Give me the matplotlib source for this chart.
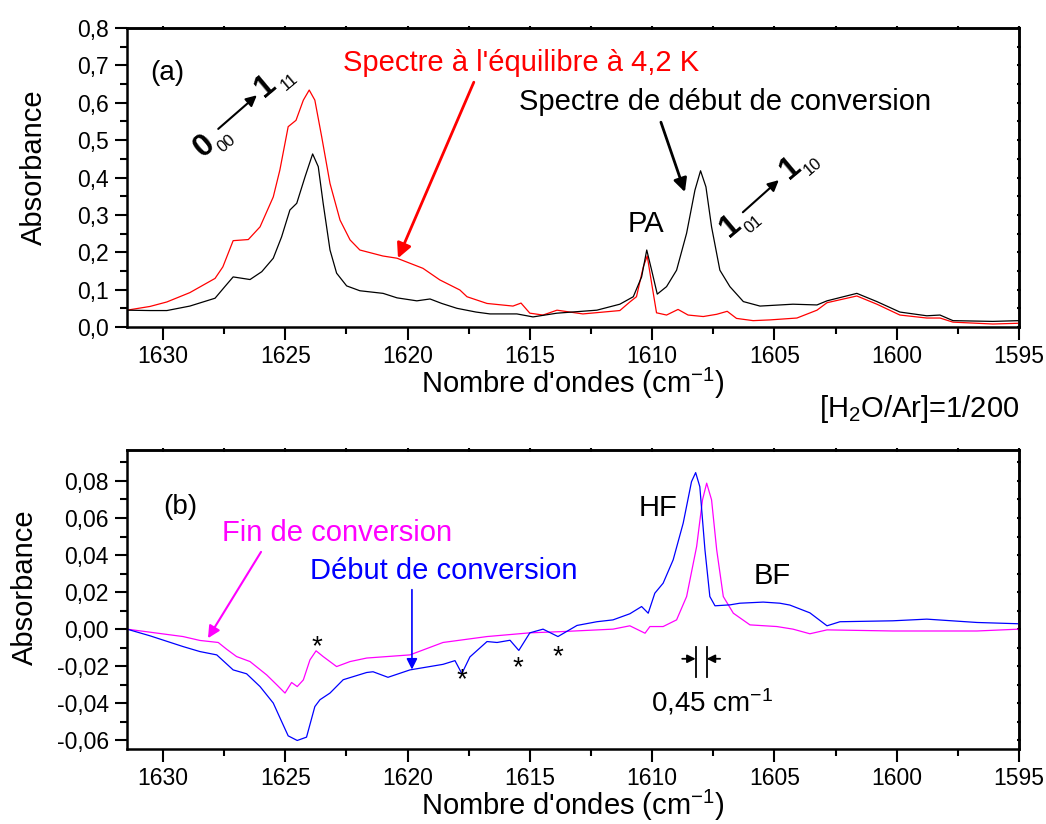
import matplotlib
matplotlib.use("Agg")
import matplotlib.pyplot as plt
import numpy as np
from matplotlib.ticker import MultipleLocator, FuncFormatter, NullFormatter

plt.rcParams["font.family"] = ["Liberation Sans", "DejaVu Sans"]
plt.rcParams["mathtext.fontset"] = "custom"
plt.rcParams["mathtext.rm"] = "Liberation Sans"
plt.rcParams["mathtext.it"] = "Liberation Sans:italic"
plt.rcParams["mathtext.default"] = "regular"

# (a) spectre de debut de conversion (noir)
wn_black = [1631.47, 1630.53, 1629.84, 1628.90, 1627.87, 1627.47, 1627.13, 1626.44,
            1625.96, 1625.49, 1625.15, 1624.81, 1624.53, 1624.19, 1623.88, 1623.65,
            1623.45, 1623.17, 1622.90, 1622.49, 1621.95, 1621.00, 1620.43, 1619.62,
            1619.08, 1618.60, 1617.98, 1617.20, 1616.63, 1615.53, 1614.87, 1613.89,
            1612.26, 1611.32, 1610.77, 1610.43, 1610.22, 1610.02, 1609.79, 1609.41,
            1609.00, 1608.59, 1608.25, 1608.02, 1607.80, 1607.57, 1607.23, 1606.82,
            1606.27, 1605.59, 1604.24, 1603.26, 1602.85, 1601.63, 1600.81, 1599.87,
            1598.77, 1598.23, 1597.70, 1596.07, 1595.00]
abs_black = [0.045, 0.044, 0.044, 0.056, 0.077, 0.108, 0.134, 0.127,
             0.148, 0.184, 0.241, 0.313, 0.331, 0.402, 0.463, 0.429,
             0.331, 0.206, 0.144, 0.110, 0.097, 0.090, 0.078, 0.070,
             0.075, 0.063, 0.050, 0.040, 0.035, 0.035, 0.027, 0.037,
             0.045, 0.061, 0.081, 0.134, 0.206, 0.152, 0.088, 0.108,
             0.152, 0.251, 0.366, 0.418, 0.375, 0.268, 0.152, 0.108,
             0.068, 0.056, 0.061, 0.059, 0.070, 0.090, 0.068, 0.040,
             0.030, 0.032, 0.017, 0.015, 0.017]

# (a) spectre a l'equilibre a 4,2 K (rouge)
wn_red = [1631.47, 1630.53, 1629.84, 1628.90, 1627.87, 1627.55, 1627.13, 1626.51,
          1626.03, 1625.49, 1625.22, 1624.88, 1624.56, 1624.26, 1624.02, 1623.79,
          1623.51, 1623.17, 1622.76, 1622.35, 1621.95, 1621.01, 1620.43, 1619.37,
          1618.68, 1617.86, 1617.57, 1616.75, 1615.69, 1615.36, 1615.00, 1614.46,
          1613.89, 1612.83, 1611.32, 1610.91, 1610.64, 1610.36, 1610.20, 1610.02,
          1609.82, 1609.41, 1608.94, 1608.53, 1607.91, 1607.36, 1606.93, 1606.55,
          1605.87, 1605.18, 1604.08, 1603.26, 1602.85, 1601.63, 1600.81, 1599.87,
          1598.77, 1598.23, 1597.70, 1596.07, 1595.00]
abs_red = [0.045, 0.055, 0.067, 0.092, 0.130, 0.161, 0.231, 0.234,
           0.268, 0.348, 0.420, 0.536, 0.553, 0.607, 0.634, 0.607,
           0.509, 0.384, 0.286, 0.233, 0.206, 0.190, 0.184, 0.157,
           0.126, 0.099, 0.081, 0.063, 0.056, 0.064, 0.037, 0.032,
           0.045, 0.035, 0.044, 0.067, 0.081, 0.161, 0.190, 0.117,
           0.038, 0.032, 0.047, 0.032, 0.028, 0.034, 0.042, 0.023,
           0.017, 0.019, 0.024, 0.045, 0.065, 0.083, 0.061, 0.032,
           0.024, 0.024, 0.013, 0.008, 0.010]

# (b) debut de conversion (bleu)
wn_blue = [1631.47, 1630.53, 1629.18, 1628.49, 1627.80, 1627.13, 1626.58, 1626.03,
           1625.49, 1625.15, 1624.88, 1624.51, 1624.13, 1623.79, 1623.58, 1623.17,
           1622.63, 1621.67, 1621.41, 1620.80, 1619.90, 1618.55, 1618.06, 1617.78,
           1617.45, 1616.75, 1616.34, 1615.81, 1615.45, 1615.00, 1614.46, 1613.85,
           1613.07, 1612.26, 1611.60, 1610.91, 1610.43, 1610.16, 1609.89, 1609.55,
           1609.14, 1608.73, 1608.39, 1608.22, 1608.05, 1607.84, 1607.64, 1607.43,
           1606.82, 1606.41, 1605.46, 1604.78, 1604.37, 1603.55, 1602.85, 1602.32,
           1600.16, 1598.77, 1596.72, 1595.00]
diff_blue = [0.0000, -0.0036, -0.0094, -0.0121, -0.0139, -0.0220, -0.0241, -0.0310,
             -0.0399, -0.0498, -0.0576, -0.0601, -0.0583, -0.0418, -0.0381, -0.0345,
             -0.0273, -0.0234, -0.0230, -0.0260, -0.0220, -0.0190, -0.0170, -0.0240,
             -0.0150, -0.0067, -0.0072, -0.0060, -0.0115, -0.0020, 0.0000, -0.0040,
             0.0020, 0.0040, 0.0050, 0.0083, 0.0122, 0.0086, 0.0194, 0.0248,
             0.0374, 0.0572, 0.0796, 0.0845, 0.0769, 0.0428, 0.0176, 0.0126,
             0.0131, 0.0140, 0.0146, 0.0140, 0.0130, 0.0088, 0.0018, 0.0040,
             0.0045, 0.0054, 0.0036, 0.0029]

# (b) fin de conversion (magenta)
wn_mag = [1631.47, 1629.18, 1628.49, 1628.08, 1627.74, 1627.40, 1626.99, 1626.44,
          1625.76, 1625.35, 1625.01, 1624.74, 1624.51, 1624.26, 1623.99, 1623.74,
          1623.45, 1622.90, 1622.35, 1621.67, 1619.90, 1618.55, 1616.75, 1615.00,
          1613.65, 1611.60, 1610.91, 1610.29, 1610.09, 1609.55, 1609.00, 1608.59,
          1608.18, 1607.94, 1607.77, 1607.57, 1607.36, 1607.09, 1606.68, 1606.00,
          1604.90, 1604.24, 1603.55, 1602.85, 1600.16, 1596.72, 1595.00]
diff_mag = [0.0000, -0.0040, -0.0061, -0.0067, -0.0072, -0.0108, -0.0148, -0.0175,
            -0.0247, -0.0300, -0.0345, -0.0288, -0.0310, -0.0274, -0.0166, -0.0117,
            -0.0148, -0.0202, -0.0175, -0.0156, -0.0139, -0.0072, -0.0040, -0.0020,
            -0.0013, 0.0000, 0.0018, -0.0022, 0.0014, 0.0014, 0.0050, 0.0176,
            0.0446, 0.0698, 0.0788, 0.0698, 0.0428, 0.0176, 0.0086, 0.0023,
            0.0014, 0.0000, -0.0025, -0.0004, -0.0010, -0.0010, 0.0000]


def comma(nd):
    def f(v, pos):
        if abs(v) < 1e-9:
            v = 0.0
        return f"{v:.{nd}f}".replace(".", ",")
    return f


def style(ax, ymaj, ymin, nd):
    ax.set_xlim(1631.47, 1595)
    ax.xaxis.set_major_locator(MultipleLocator(5))
    ax.xaxis.set_minor_locator(MultipleLocator(2.5))
    ax.yaxis.set_major_locator(MultipleLocator(ymaj))
    ax.yaxis.set_minor_locator(MultipleLocator(ymin))
    ax.yaxis.set_major_formatter(FuncFormatter(comma(nd)))
    ax.tick_params(which="major", direction="out", length=9, width=1.5,
                   labelsize=16.5, pad=4)
    ax.tick_params(which="minor", direction="out", length=5, width=1.5)
    for s in ax.spines.values():
        s.set_linewidth(1.8)
    sx = ax.secondary_xaxis("top")
    sx.xaxis.set_major_locator(MultipleLocator(2.5))
    sx.xaxis.set_major_formatter(NullFormatter())
    sx.tick_params(direction="inout", length=3, width=1.5)
    sx.spines["top"].set_linewidth(1.8)
    sy = ax.secondary_yaxis("right")
    sy.yaxis.set_major_locator(MultipleLocator(ymin))
    sy.yaxis.set_major_formatter(NullFormatter())
    sy.tick_params(direction="inout", length=3, width=1.5)
    sy.spines["right"].set_linewidth(1.8)
    ax.set_xlabel("Nombre d'ondes (cm$^{-1}$)", fontsize=21, va="baseline")
    ax.xaxis.set_label_coords(0.5, -0.222)


fig = plt.figure(figsize=(10.46, 8.24), dpi=100)
ax1 = fig.add_axes([127 / 1046, 1 - 327 / 824, 892 / 1046, 299 / 824])
ax2 = fig.add_axes([127 / 1046, 1 - 749 / 824, 892 / 1046, 299 / 824])

# ---- (a)
ax1.plot(wn_red, abs_red, color="#ff0000", lw=0.9)
ax1.plot(wn_black, abs_black, color="black", lw=0.9)
ax1.set_ylim(0, 0.8)
style(ax1, 0.1, 0.05, 1)
ax1.set_ylabel("Absorbance", fontsize=21, va="baseline")
ax1.yaxis.set_label_coords(-0.095, 0.533)

ax1.text(1629.84, 0.679, "(a)", fontsize=20, ha="center", va="center")
ax1.text(1615.36, 0.706, "Spectre à l'équilibre à 4,2 K", color="#ff0000",
         fontsize=21, ha="center", va="center")
ax1.annotate("", xy=(1620.39, 0.184), xytext=(1617.29, 0.655),
             arrowprops=dict(arrowstyle="-|>", color="#ff0000", lw=2,
                             mutation_scale=22, shrinkA=0, shrinkB=0))
ax1.text(1607.0, 0.602, "Spectre de début de conversion", color="black",
         fontsize=21, ha="center", va="center")
ax1.annotate("", xy=(1608.66, 0.361), xytext=(1609.64, 0.548),
             arrowprops=dict(arrowstyle="-|>", color="black", lw=2,
                             mutation_scale=20, shrinkA=0, shrinkB=0))
ax1.text(1610.25, 0.275, "PA", fontsize=21, ha="center", va="center")

# transitions 0_00 -> 1_11 et 1_01 -> 1_10
rot = 40
big = dict(fontsize=23, fontweight="bold", rotation=rot, ha="center",
           va="center", rotation_mode="anchor")
small = dict(fontsize=12, rotation=rot, ha="center", va="center",
             rotation_mode="anchor")
ax1.text(1628.32, 0.484, "0", **big)
ax1.text(1627.40, 0.490, "00", **small)
ax1.annotate("", xy=(1626.16, 0.620), xytext=(1627.74, 0.530),
             arrowprops=dict(arrowstyle="-|>", color="black", lw=1.5,
                             mutation_scale=16, shrinkA=0, shrinkB=0))
ax1.text(1625.80, 0.645, "1", **big)
ax1.text(1624.82, 0.655, "11", **small)

ax1.text(1606.80, 0.270, "1", **big)
ax1.text(1605.84, 0.274, "01", **small)
ax1.annotate("", xy=(1604.82, 0.393), xytext=(1606.29, 0.307),
             arrowprops=dict(arrowstyle="-|>", color="black", lw=1.5,
                             mutation_scale=16, shrinkA=0, shrinkB=0))
ax1.text(1604.33, 0.426, "1", **big)
ax1.text(1603.43, 0.428, "10", **small)

ax1.text(1.0, -0.30, "[H$_2$O/Ar]=1/200", transform=ax1.transAxes,
         fontsize=21, ha="right", va="baseline")

# ---- (b)
ax2.plot(wn_mag, diff_mag, color="#ff00ff", lw=0.9)
ax2.plot(wn_blue, diff_blue, color="#0000ff", lw=0.9)
ax2.set_ylim(-0.0647, 0.0967)
style(ax2, 0.02, 0.01, 2)
ax2.set_ylabel("Absorbance", fontsize=21, va="baseline")
ax2.yaxis.set_label_coords(-0.105, 0.54)

ax2.text(1629.30, 0.066, "(b)", fontsize=20, ha="center", va="center")
ax2.text(1622.87, 0.052, "Fin de conversion", color="#ff00ff",
         fontsize=21, ha="center", va="center")
ax2.annotate("", xy=(1628.16, -0.0049), xytext=(1625.99, 0.0417),
             arrowprops=dict(arrowstyle="-|>", color="#ff00ff", lw=1.5,
                             mutation_scale=18, shrinkA=0, shrinkB=0))
ax2.text(1618.53, 0.0315, "Début de conversion", color="#0000ff",
         fontsize=21, ha="center", va="center")
ax2.annotate("", xy=(1619.82, -0.0218), xytext=(1619.82, 0.0213),
             arrowprops=dict(arrowstyle="-|>", color="#0000ff", lw=1.2,
                             mutation_scale=16, shrinkA=0, shrinkB=0))

star_x = [1623.70, 1617.78, 1615.49, 1613.85]
star_y = [-0.0026, -0.0204, -0.0139, -0.0079]
for sx_, sy_ in zip(star_x, star_y):
    ax2.text(sx_, sy_, "*", fontsize=20, ha="center", va="top")

ax2.text(1609.74, 0.0654, "HF", fontsize=21, ha="center", va="center")
ax2.text(1605.08, 0.0288, "BF", fontsize=21, ha="center", va="center")

# ecart entre les deux maxima
x_hf = wn_blue[int(np.argmax(diff_blue))]
x_bf = wn_mag[int(np.argmax(diff_mag))]
for xv in (x_hf, x_bf):
    ax2.plot([xv, xv], [-0.0256, -0.0094], color="black", lw=1.3)
ax2.annotate("", xy=(x_hf, -0.016), xytext=(x_hf + 0.55, -0.016),
             arrowprops=dict(arrowstyle="-|>", color="black", lw=1.3,
                             mutation_scale=12, shrinkA=0, shrinkB=0))
ax2.annotate("", xy=(x_bf, -0.016), xytext=(x_bf - 0.55, -0.016),
             arrowprops=dict(arrowstyle="-|>", color="black", lw=1.3,
                             mutation_scale=12, shrinkA=0, shrinkB=0))
ax2.text(1607.56, -0.0444, "0,45 cm$^{-1}$", fontsize=20,
         ha="center", va="baseline")

fig.savefig("out.png", dpi=100)
